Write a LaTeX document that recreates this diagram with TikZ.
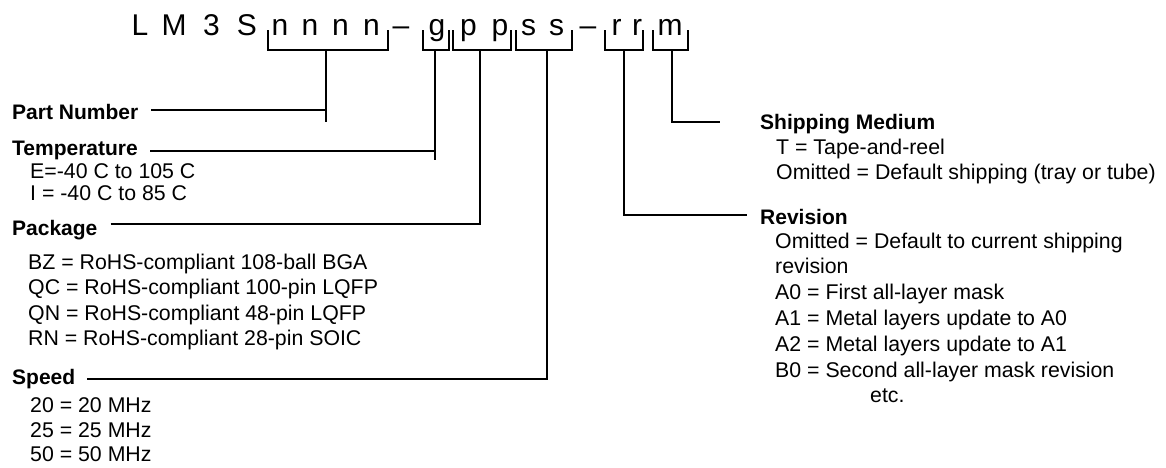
\documentclass[tikz,border=0pt]{standalone}
\usepackage{fontspec}
\setmainfont{Liberation Sans}
\usetikzlibrary{calc}
\tikzset{
 code/.style={font=\fontsize{30}{30}\selectfont,inner sep=0pt,anchor=base},
 head/.style={font=\fontsize{21}{21}\selectfont\bfseries,inner sep=0pt,anchor=base west},
 item/.style={font=\fontsize{21.3}{21.3}\selectfont,inner sep=0pt,anchor=base west},
 lead/.style={line width=1.2pt},
 brace/.style={line width=1.2pt}
}

\begin{document}
\begin{tikzpicture}[x=1pt,y=-1pt]
\useasboundingbox (0,0) rectangle (1166,467);
% part code letters
\foreach \ch/\cx [count=\i] in {L/140,M/174,3/211.5,S/247,n/280,n/310,n/340.5,n/371.5,–/401,g/437,p/468.5,p/500,s/528.5,s/556.5,–/588,r/616.5,r/637,m/670}
  \node[code] (ch\i) at (\cx,35) {\ch};
% brackets under the fields
\foreach \nm/\l/\r/\s in {num/268/388/326,temp/423/449/435,pkg/453/511/480,spd/516/572/547,rev/605/643/624,ship/653/688/672}{
  \draw[brace] (\l,30) -- (\l,50) -- (\r,50) -- (\r,30);
  \coordinate (\nm) at (\s,50);
}
% left column
\node[head] (pn) at (12,119) {Part Number};
\node[head] (tp) at (12,155) {Temperature};
\foreach \txt [count=\i] in {E=-40 C to 105 C,I = -40 C to 85 C}
  \node[item] (tp\i) at (30,{156+22*\i}) {\txt};
\node[head] (pk) at (12,235) {Package};
\foreach \txt [count=\i] in {BZ = RoHS-compliant 108-ball BGA,QC = RoHS-compliant 100-pin LQFP,QN = RoHS-compliant 48-pin LQFP,RN = RoHS-compliant 28-pin SOIC}
  \node[item] (pk\i) at (28,{243.5+25.5*\i}) {\txt};
\node[head] (sp) at (12,384) {Speed};
\foreach \txt [count=\i] in {20 = 20 MHz,25 = 25 MHz,50 = 50 MHz}
  \node[item] (sp\i) at (30,{388+24.5*\i}) {\txt};
% right column
\node[head] (sm) at (760,129) {Shipping Medium};
\foreach \txt [count=\i] in {T = Tape-and-reel,Omitted = Default shipping (tray or tube)}
  \node[item] (sm\i) at (776,{129+25*\i}) {\txt};
\node[head] (rv) at (760,224) {Revision};
\foreach \txt [count=\i] in {Omitted = Default to current shipping,revision,A0 = First all-layer mask,A1 = Metal layers update to A0,A2 = Metal layers update to A1,B0 = Second all-layer mask revision}
  \node[item] (rv\i) at (775,{222.2+25.8*\i}) {\txt};
\node[item] (etc) at (870,402.8) {etc.};
% leader lines
\draw[lead] ([xshift=13pt,yshift=9pt]pn.base east) coordinate (pnl) -- (pnl -| num);
\draw[lead] (num) -- ++(0,72);
\draw[lead] ([xshift=12pt,yshift=4pt]tp.base east) coordinate (tpl) -- (tpl -| temp);
\draw[lead] (temp) -- ++(0,110);
\draw[lead] ([xshift=13pt,yshift=11pt]pk.base east) -| (pkg);
\draw[lead] ([xshift=12pt,yshift=5pt]sp.base east) -| (spd);
\draw[lead] (ship) |- ([xshift=-40pt,yshift=7pt]sm.base west);
\draw[lead] (rev) |- ([xshift=-13pt,yshift=9pt]rv.base west);
\end{tikzpicture}
\end{document}
